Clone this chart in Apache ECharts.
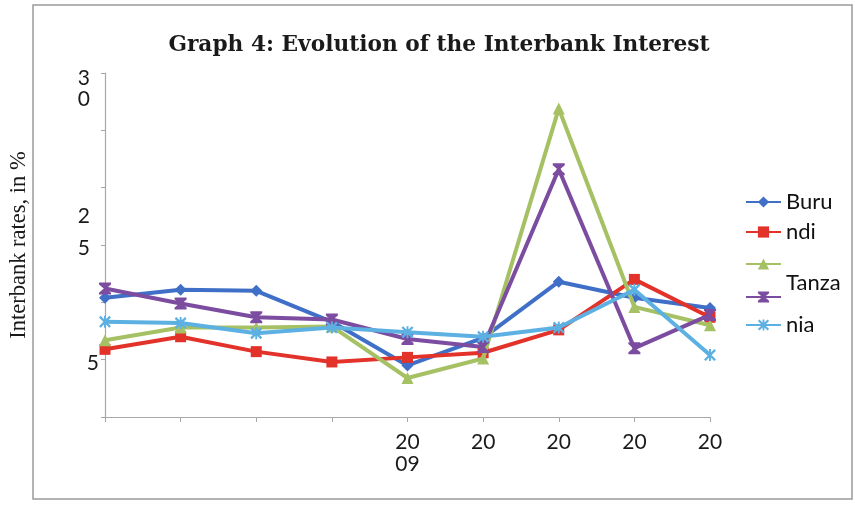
<!DOCTYPE html>
<html>
<head>
<meta charset="utf-8">
<script src="https://cdn.jsdelivr.net/npm/echarts@6/dist/echarts.min.js"></script>
<style>html,body{margin:0;padding:0;background:#fff;}#c{width:855px;height:505px;}</style>
</head>
<body>
<div id="c"></div>
<script>
const categories = ['', '', '', '', '20\n09', '20', '20', '20', '20'];
const seriesNames = ['Buru', 'ndi', ' ', 'Tanza', 'nia'];
const blueValues   = [10.4, 11.1, 11.0, 8.3, 4.5, 6.9, 11.8, 10.4, 9.5];
const redValues    = [5.9, 7.0, 5.7, 4.8, 5.2, 5.6, 7.6, 12.0, 8.7];
const greenValues  = [6.7, 7.8, 7.8, 7.9, 3.4, 5.1, 26.9, 9.6, 8.0];
const purpleValues = [11.2, 9.9, 8.7, 8.5, 6.8, 6.1, 21.6, 6.0, 8.9];
const aquaValues   = [8.3, 8.2, 7.3, 7.8, 7.4, 7.0, 7.8, 11.1, 5.4];
const yTickValues = [30, 15, 5];
const yTickTexts  = ['{a|3}\n{b|0}', '{c|2}\n{d|5}', '{e|5}'];

const colors = ['#3f6fc6', '#e2322a', '#a6c164', '#7b4c9f', '#5cb0e2'];
const symbols = [
  'diamond',
  'rect',
  'triangle',
  'path://M0,0 H10 V1.6 L6,5 L10,8.4 V10 H0 V8.4 L4,5 L0,1.6 Z',
  'path://M4.2,0 H5.8 V10 H4.2 Z M0,1.4 L1.4,0 L10,8.6 L8.6,10 Z M8.6,0 L10,1.4 L1.4,10 L0,8.6 Z'
];
const allValues = [blueValues, redValues, greenValues, purpleValues, aquaValues];
const legendTops = [191, 221, 253, 272, 314];

const sansFont = 'Lato';
const chart = echarts.init(document.getElementById('c'));

const series = allValues.map((vals, i) => ({
  name: seriesNames[i],
  type: 'line',
  data: vals,
  symbol: symbols[i],
  symbolSize: i === 1 ? 11 : 12,
  showSymbol: true,
  lineStyle: { width: 4, color: colors[i] },
  itemStyle: { color: colors[i] },
  z: 2 + i
}));

const legends = seriesNames.map((n, i) => ({
  data: [n],
  orient: 'vertical',
  left: 745,
  top: legendTops[i],
  padding: 0,
  itemWidth: 35,
  itemHeight: 14,
  itemGap: 4,
  selectedMode: false,
  textStyle: { fontFamily: sansFont, fontSize: 22, color: '#111',
    rich: { up: { fontFamily: sansFont, fontSize: 22, color: '#111', padding: [0, 0, 28, 0] } } },
  formatter: i === 3 ? '{up|{name}}' : '{name}'
}));

const lab = { fontFamily: sansFont, fontSize: 21, color: '#1a1a1a' };

chart.setOption({
  animation: false,
  backgroundColor: '#fff',
  color: colors,
  title: {
    text: 'Graph 4: Evolution of the Interbank Interest',
    left: 434, top: 29, textAlign: 'center',
    textStyle: { fontFamily: 'DejaVu Serif', fontWeight: 'bold', fontSize: 21.7, color: '#1a1a1a' }
  },
  graphic: [{
    type: 'rect', silent: true, z: -1,
    shape: { x: 33, y: 5, width: 819, height: 494 },
    style: { fill: 'none', stroke: '#9a9a9a', lineWidth: 1.5 }
  }],
  legend: legends,
  grid: { left: 100, right: 145, top: 73, bottom: 88, containLabel: false },
  xAxis: {
    type: 'category',
    data: categories,
    boundaryGap: false,
    axisLine: { lineStyle: { color: '#a8a8a8', width: 1.2 } },
    axisTick: { show: true, alignWithLabel: true, length: 5, lineStyle: { color: '#a8a8a8' }, interval: 0 },
    axisLabel: { interval: 0, margin: 14, fontFamily: sansFont, fontSize: 21, lineHeight: 22, color: '#1a1a1a' },
    splitLine: { show: false }
  },
  yAxis: {
    type: 'value',
    min: 0, max: 30, interval: 5,
    name: 'Interbank rates, in %',
    nameLocation: 'middle',
    nameGap: 74,
    nameRotate: 90,
    nameTextStyle: { fontFamily: 'Liberation Serif', fontSize: 22.5, color: '#1a1a1a' },
    axisLine: { show: true, lineStyle: { color: '#a8a8a8', width: 1.2 } },
    axisTick: { show: true, length: 4, lineStyle: { color: '#a8a8a8' } },
    splitLine: { show: false },
    axisLabel: {
      margin: 6,
      fontFamily: sansFont, fontSize: 21, color: '#1a1a1a',
      formatter: function (v) {
        const i = yTickValues.indexOf(v);
        return i < 0 ? '' : yTickTexts[i];
      },
      rich: {
        a: Object.assign({ padding: [32, 9, 0, 0] }, lab),
        b: Object.assign({ padding: [0, 9, 0, 0] }, lab),
        c: Object.assign({ padding: [0, 9, 11, 0] }, lab),
        d: Object.assign({ padding: [0, 9, 26, 0] }, lab),
        e: Object.assign({ padding: [8, 0, 0, 0] }, lab)
      }
    }
  },
  series: series
});
</script>
</body>
</html>
